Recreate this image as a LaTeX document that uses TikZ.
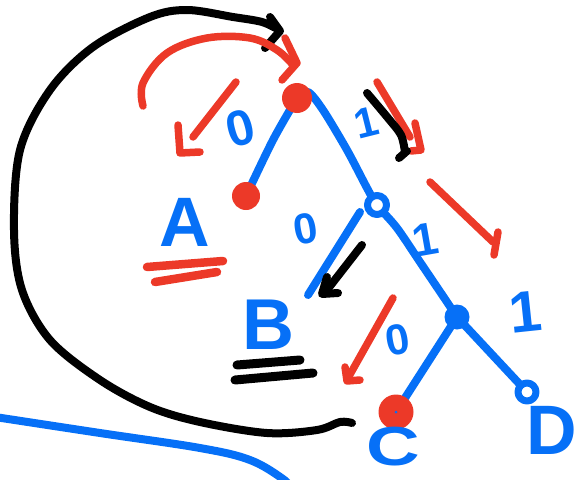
\documentclass[tikz,border=0pt]{standalone}
\usepackage{fontspec}
\usepackage{graphicx}
\setmainfont{Liberation Sans}
\definecolor{penblue}{RGB}{6,112,247}
\definecolor{penred}{RGB}{236,57,40}
\begin{document}
\begin{tikzpicture}[x=1pt, y=-1pt, line cap=round, line join=round,
  bluepen/.style={draw=penblue, line width=8pt},
  redpen/.style={draw=penred, line width=7.5pt},
  blackpen/.style={draw=black, line width=8pt},
  reddot/.style={circle, fill=penred, inner sep=0pt, minimum size=#1},
  bluedot/.style={circle, fill=penblue, inner sep=0pt, minimum size=#1},
  bluering/.style={circle, draw=penblue, line width=7pt, fill=white, inner sep=0pt, minimum size=#1},
  letter/.style={text=penblue, font=\fontsize{#1}{#1}\selectfont\bfseries, inner sep=0pt},
  ]
\useasboundingbox (0,0) rectangle (583,479);

% tree vertices
\coordinate (root) at (297,98);
\coordinate (va) at (246,196);
\coordinate (v1) at (377,205);
\coordinate (vb) at (308,295);
\coordinate (v2) at (457,317);
\coordinate (vc) at (396,412);
\coordinate (v3) at (527,392);

% tree edges
\draw[bluepen] plot[smooth, tension=0.5] coordinates {(root) (273,140) (va)};
\draw[bluepen] plot[smooth, tension=0.5] coordinates {(root) (308,92) (323,110) (347,150) (367,188) (v1) (397,228) (420,262) (447,302) (v2)};
\draw[bluepen] (v1) ++(-17,7) -- (vb);
\draw[bluepen] (v2) -- (vc);
\draw[bluepen] (v2) -- (v3);

% vertex marks
\node[reddot=30pt] (nroot) at (root) {};
\node[reddot=28pt] (na) at (va) {};
\node[bluering=19pt] (n1) at (v1) {};
\node[bluedot=25pt] (n2) at (v2) {};
\node[reddot=35pt] (nc) at (vc) {};
\fill[penblue] (nc.center) circle (1.5pt);
\node[bluering=18pt] (n3) at (v3) {};

% edge labels
\node[letter=50, rotate=15] (l0a) at (240,128) {0};
\node[letter=43, rotate=10] (l0b) at (306,229) {0};
\node[letter=43, rotate=10] (l0c) at (398,340) {0};
\node[letter=42, rotate=14] (l1a) at (366,123) {1};
\node[letter=46, rotate=10] (l1b) at (425,240) {1};
\node[letter=58, rotate=6] (l1c) at (525,312) {1};

% leaf labels
\node[letter=70] (la) at (185,222) {A};
\node[letter=72] (lb) at (268,325) {B};
\node[letter=55] (lc) at (393,447) {\scalebox{1.35}[1]{C}};
\node[letter=70] (ld) at (552,430) {D};

% underlines
\draw[redpen, line width=8.5pt] (147,267) -- (223,261);
\draw[redpen, line width=8.5pt] (155,282) -- (217,272);
\draw[blackpen, line width=9pt] (237,365) -- (300,360);
\draw[blackpen, line width=9pt] (235,380) -- (313,373);

% big black loop back to the root
\draw[blackpen] plot[smooth, tension=0.55] coordinates {(352,423) (340,422) (317,430) (267,433) (200,422) (150,407) (100,380) (50,340) (22,290) (14,230) (20,150) (50,90) (93,47) (150,17) (187,10) (233,17) (262,22) (279,30)};
\draw[blackpen] (270,17) -- (280,31) -- (265,48);

% red arc over the root
\draw[redpen] plot[smooth, tension=0.6] coordinates {(143,106) (143,83) (167,53) (207,38) (250,38) (277,50) (293,65)};
\draw[redpen] (285,38) -- (297,63) -- (282,80);

% red arrow towards A
\draw[redpen] (236,82) -- (193,137);
\draw[redpen] (178,125) -- (180,153) -- (200,152);

% arrows along the right spine
\draw[redpen] (377,82) -- (410,137);
\draw[redpen] (415,123) -- (421,150) -- (411,151);
\draw[blackpen] plot[smooth, tension=0.5] coordinates {(367,93) (388,118) (401,135) (405,152)};
\draw[blackpen] (399,158) -- (407,151);
\draw[redpen] (430,182) -- (493,242);
\draw[redpen] (498,232) -- (494,255);

% arrow towards B
\draw[blackpen] (362,245) -- (327,290);
\draw[blackpen] (327,277) -- (322,294) -- (338,293);

% arrow towards C
\draw[redpen] (393,298) -- (348,378);
\draw[redpen] (345,367) -- (347,381) -- (360,380);

% blue stroke along the bottom
\draw[bluepen] plot[smooth, tension=0.6] coordinates {(-5,417) (100,433) (200,448) (250,460) (283,479) (290,488)};
\end{tikzpicture}
\end{document}
